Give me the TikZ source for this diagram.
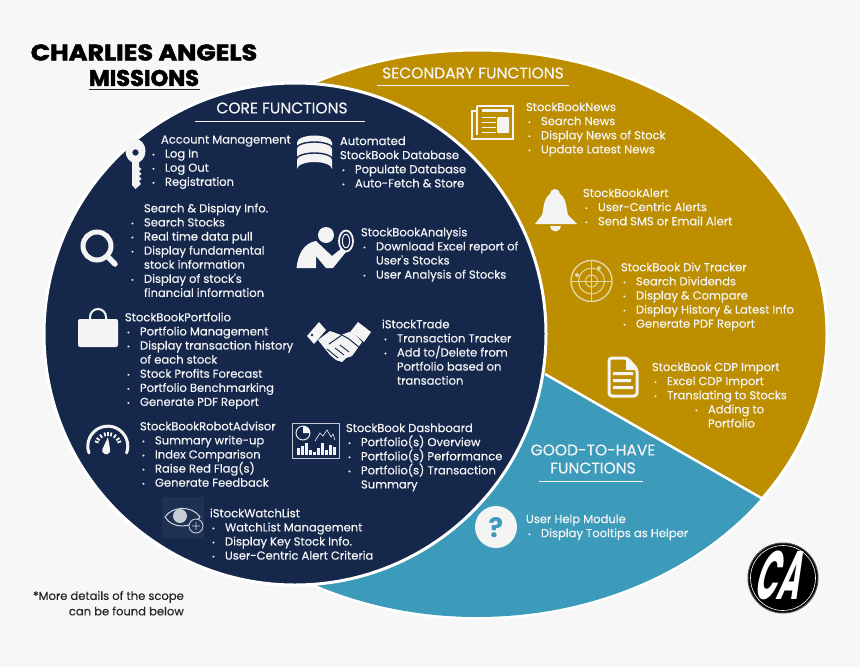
\documentclass[tikz,border=0pt]{standalone}
\usepackage{fontspec}
\setmainfont[BoldFont={Poppins Bold}]{Poppins}
\newfontfamily\bodyfnt[FakeBold=0.35]{Poppins}
\newfontfamily\titlefnt[FakeBold=2.2]{Poppins Bold}
\newfontfamily\logofnt{Poppins Bold}
\usetikzlibrary{calc}
\definecolor{bgc}{HTML}{F7F7F7}
\definecolor{navy}{HTML}{15284C}
\definecolor{gold}{HTML}{BD8E00}
\definecolor{teal2}{HTML}{3C9ABA}
\definecolor{wht}{HTML}{F4F4F4}
\newlength{\bw}
\setlength{\bw}{15pt}
\newcommand{\bul}[1]{\makebox[\bw][l]{\hspace{2pt}\raisebox{0.6pt}{\fontsize{7}{7}\selectfont•}}#1}
\newcommand{\con}[1]{\hspace*{\bw}#1}
\newcommand{\off}[2]{\hspace*{#1pt}#2}
\tikzset{
  x=1pt,y=-1pt,
  txt/.style={anchor=north west,inner sep=0pt,outer sep=0pt,text=wht,align=left,
     font=\bodyfnt\fontsize{11.55}{14.1}\selectfont},
  head/.style={inner sep=0pt,text=wht,font=\bodyfnt\fontsize{15.5}{18}\selectfont},
  rulew/.style={draw=wht,line width=0.9pt},
  ico/.style={fill=wht,draw=none},
  icol/.style={draw=wht,line width=1.6pt,fill=none},
  foot/.style={inner sep=0pt,anchor=east,text=black!85,font=\bodyfnt\fontsize{11.55}{14.1}\selectfont}
}
\begin{document}
\begin{tikzpicture}
\useasboundingbox (0,0) rectangle (860,667);
\fill[bgc] (0,0) rectangle (860,667);
% large ellipse, gold and teal
\fill[gold,draw=white,line width=3pt] (477,334) ellipse [x radius=350,y radius=284];
\begin{scope}
  \clip (545,374) -- (762,498) -- (860,554) -- (860,667) -- (200,667) -- (200,374) -- cycle;
  \fill[teal2] (477,334) ellipse [x radius=349,y radius=283];
\end{scope}
\draw[white,line width=2.5pt] (545,374) -- (763,499);
% core circle
\fill[navy,draw=white,line width=3pt] (295,334) circle [radius=251];
% title
\node[inner sep=0pt,text=black,xscale=1.13,font=\titlefnt\fontsize{22.5}{26}\selectfont] (t1) at (144,52.5) {CHARLIES ANGELS};
\node[inner sep=0pt,text=black,font=\titlefnt\fontsize{22.5}{26}\selectfont] (t2) at (144,78) {MISSIONS};
\draw[black!85,line width=1.5pt] (89,89.5) -- (200,89.5);
% headings
\node[head] (hcore) at (282,108) {CORE FUNCTIONS};
\draw[rulew] (195,121) -- (365,121);
\node[head] (hsec) at (473,73) {SECONDARY FUNCTIONS};
\draw[rulew] (377,85) -- (569,85);
\node[head] (hgood1) at (593,450) {GOOD-TO-HAVE};
\node[head] (hgood2) at (593,468) {FUNCTIONS};
\draw[rulew] (539,481.5) -- (643,481.5);
% text blocks
\node[txt] (acct) at (150,135.5) {\off{11}{Account Management}\\\bul{Log In}\\\bul{Log Out}\\\bul{Registration}};
\node[txt] (auto) at (340,136.5) {Automated\\StockBook Database\\\bul{Populate Database}\\\bul{Auto-Fetch \& Store}};
\node[txt] (srch) at (129,203.5) {\off{15}{Search \& Display Info.}\\\bul{Search Stocks}\\\bul{Real time data pull}\\\bul{Display fundamental}\\\con{stock information}\\\bul{Display of stock's}\\\con{financial information}};
\node[txt] (anal) at (361,227.5) {StockBookAnalysis\\\bul{Download Excel report of}\\\con{User's Stocks}\\\bul{User Analysis of Stocks}};
\node[txt] (port) at (125,312.5) {StockBookPortfolio\\\bul{Portfolio Management}\\\bul{Display transaction history}\\\con{of each stock}\\\bul{Stock Profits Forecast}\\\bul{Portfolio Benchmarking}\\\bul{Generate PDF Report}};
\node[txt] (trade) at (382,319.5) {iStockTrade\\\bul{Transaction Tracker}\\\bul{Add to/Delete from}\\\con{Portfolio based on}\\\con{transaction}};
\node[txt] (robo) at (140,421.5) {StockBookRobotAdvisor\\\bul{Summary write-up}\\\bul{Index Comparison}\\\bul{Raise Red Flag(s)}\\\bul{Generate Feedback}};
\node[txt] (dash) at (346,423.5) {StockBook Dashboard\\\bul{Portfolio(s) Overview}\\\bul{Portfolio(s) Performance}\\\bul{Portfolio(s) Transaction}\\\con{Summary}};
\node[txt] (watch) at (210,508.5) {iStockWatchList\\\bul{WatchList Management}\\\bul{Display Key Stock Info.}\\\bul{User-Centric Alert Criteria}};
\node[txt] (news) at (526,102.5) {StockBookNews\\\bul{Search News}\\\bul{Display News of Stock}\\\bul{Update Latest News}};
\node[txt] (alert) at (583,188.5) {StockBookAlert\\\bul{User-Centric Alerts}\\\bul{Send SMS or Email Alert}};
\node[txt] (divt) at (621,262.5) {StockBook Div Tracker\\\bul{Search Dividends}\\\bul{Display \& Compare}\\\bul{Display History \& Latest Info}\\\bul{Generate PDF Report}};
\node[txt] (cdp) at (652,362.5) {StockBook CDP Import\\\bul{Excel CDP Import}\\\bul{Translating to Stocks}\\\off{41}{\bul{Adding to}}\\\off{41}{\con{Portfolio}}};
\node[txt] (help) at (526,514.5) {User Help Module\\\bul{Display Tooltips as Helper}};
\node[foot] (f1) at (184,597) {*More details of the scope};
\node[foot] (f2) at (184,611) {can be found below};
% key
\fill[ico,even odd rule] (135.5,151) ellipse [x radius=10,y radius=12] (135.5,152.5) circle [radius=3.3];
\fill[ico] (132,160) -- (139,160) -- (139,167) -- (141.5,169) -- (139,171) -- (141.5,174) -- (139,176) -- (141.5,179) -- (139,181) -- (141,184) -- (135.5,189) -- (132,185) -- cycle;
% database
\fill[ico] (297,142) -- (297,169) arc [start angle=180,end angle=0,x radius=17.5,y radius=-7] -- (332,142) -- cycle;
\fill[ico] (314.5,142.5) ellipse [x radius=17.5,y radius=7];
\draw[navy,line width=1.4pt] (296,149) arc [start angle=180,end angle=0,x radius=18.5,y radius=-7];
\draw[navy,line width=1.4pt] (296,160) arc [start angle=180,end angle=0,x radius=18.5,y radius=-7];
% magnifier
\draw[wht,line width=5pt] (97,246) circle [radius=14];
\draw[wht,line width=5.5pt,line cap=round] (107,256) -- (115,264);
% person with lens
\fill[ico] (326,235) circle [radius=8];
\fill[ico] (296.5,268) .. controls (298,254) and (304,243) .. (316,241) -- (332,256) -- (342,248) -- (346,252) -- (333,268) -- (326,268) -- (316,256) -- (316,268) -- cycle;
\draw[wht,line width=1.8pt] (346,241) ellipse [x radius=7,y radius=10.5];
\draw[wht,line width=1pt] (346,241) ellipse [x radius=3.6,y radius=6.8];
% briefcase
\draw[wht,line width=2pt] (90,321) -- (90,317) arc [start angle=-180,end angle=0,radius=8] -- (106,321);
\fill[ico,rounded corners=2pt] (78,319) rectangle (118,347);
% handshake
\fill[ico] (307,336) -- (319,322) -- (326,330) -- (314,344) -- cycle;
\fill[ico] (371,332) -- (358,322) -- (351,331) -- (364,342) -- cycle;
\fill[navy] (312,335) circle [radius=1.3];
\fill[ico] (318,340) -- (330,331) -- (341,335) -- (352,331) -- (362,342) -- (352,356) -- (346,358) -- (342,362) -- (336,360) -- (330,355) -- cycle;
\draw[navy,line width=1pt] (329,344) -- (342,335) -- (349,339) -- (360,348);
\draw[navy,line width=0.9pt] (327,349) -- (338,358) (335,348) -- (344,355) (340,345) -- (349,352);
% gauge
\draw[wht,line width=3pt,line cap=round] (89,453) arc [start angle=-200,end angle=20,radius=20];
\foreach \a in {-160,-145,-125,-105,-90,-75,-55,-35,-20}{
  \draw[wht,line width=1.8pt] ($(108,446)+(\a:14)$) -- ($(108,446)+(\a:10)$);
}
\fill[ico] (108,437) -- (110,449) arc [start angle=-20,end angle=200,radius=4] -- cycle;
% chart
\draw[wht!80!navy,line width=1pt] (292,423) rectangle (339,458);
\draw[wht,line width=0.9pt] (303,433) circle [radius=7];
\fill[wht] (303,433) -- (303,426) arc [start angle=-90,end angle=0,radius=7] -- cycle;
\draw[wht,line width=0.6pt] (315,441) -- (320,433) -- (323,436) -- (327,430) -- (331,437) -- (333,434) -- (335,440);
\foreach \xx/\hh in {297/7,301/9,305/12,309/5,313/3,317/7,321/12,325/5,329/10,333/8}{
  \fill[wht] (\xx,455) rectangle (\xx+2.8,455-\hh);
}
% eye
\fill[navy!96!white] (162,497) rectangle (204,538);
\draw[wht!85!navy,line width=1pt] (165,517) .. controls (172,506) and (192,505) .. (200,517) .. controls (192,529) and (172,529) .. cycle;
\fill[wht!80!navy] (180,516) circle [radius=7];
\fill[navy!96!white] (196,526) circle [radius=7];
\draw[wht!80!navy,line width=0.9pt] (196,526) circle [radius=7] (192,526) -- (200,526) (196,522) -- (196,530);
% news
\draw[icol] (477,106) -- (513,106) -- (513,139) -- (472,139) -- (472,111) -- (477,111);
\draw[icol] (477,106) -- (477,135);
\fill[ico] (482,109) rectangle (508,112);
\foreach \yy in {117,122,127,132}{\fill[ico] (482,\yy) rectangle (496,\yy+1.3);}
\fill[ico,rounded corners=1pt] (497,117) rectangle (509,133);
% bell
\fill[ico] (535,224) -- (542,215) .. controls (544,208) and (543,199) .. (550,194) arc [start angle=-180,end angle=0,radius=5] .. controls (567,199) and (566,208) .. (568,215) -- (577,224) -- cycle;
\fill[ico] (550,226) arc [start angle=180,end angle=0,radius=5.5] -- cycle;
% radar
\begin{scope}[draw=wht!70!gold,line width=1pt]
\draw[line width=1.4pt] (591.5,281) circle [radius=20.5];
\draw (591.5,281) circle [radius=13];
\draw (591.5,281) circle [radius=6];
\draw (571,281) -- (612,281) (591.5,260.5) -- (591.5,301.5);
\fill[wht!70!gold] (577,275) circle [radius=2] (599,268) circle [radius=2];
\end{scope}
% document
\draw[wht,line width=3pt,line join=round,rounded corners=3pt] (609,358) -- (627,358) -- (637,369) -- (637,396) -- (609,396) -- cycle;
\fill[ico] (626,357) -- (638,370) -- (626,370) -- cycle;
\fill[ico] (613,372) rectangle (633,375) (613,379) rectangle (631,382) (613,386) rectangle (633,389);
% help
\fill[ico] (496,527) circle [radius=21];
\node[inner sep=0pt,text=teal2,font=\bfseries\fontsize{27}{30}\selectfont] (q) at (496,528) {?};
% logo
\fill[black,draw=black!70,line width=1pt] (783,578) circle [radius=35];
\draw[white,line width=0.6pt] (783,578) circle [radius=32.5];
\node[inner sep=0pt,text=white,xslant=0.3,xscale=0.78,yscale=1.8,font=\logofnt\fontsize{38}{40}\selectfont] (logo) at (782,575) {CA};
\end{tikzpicture}
\end{document}
